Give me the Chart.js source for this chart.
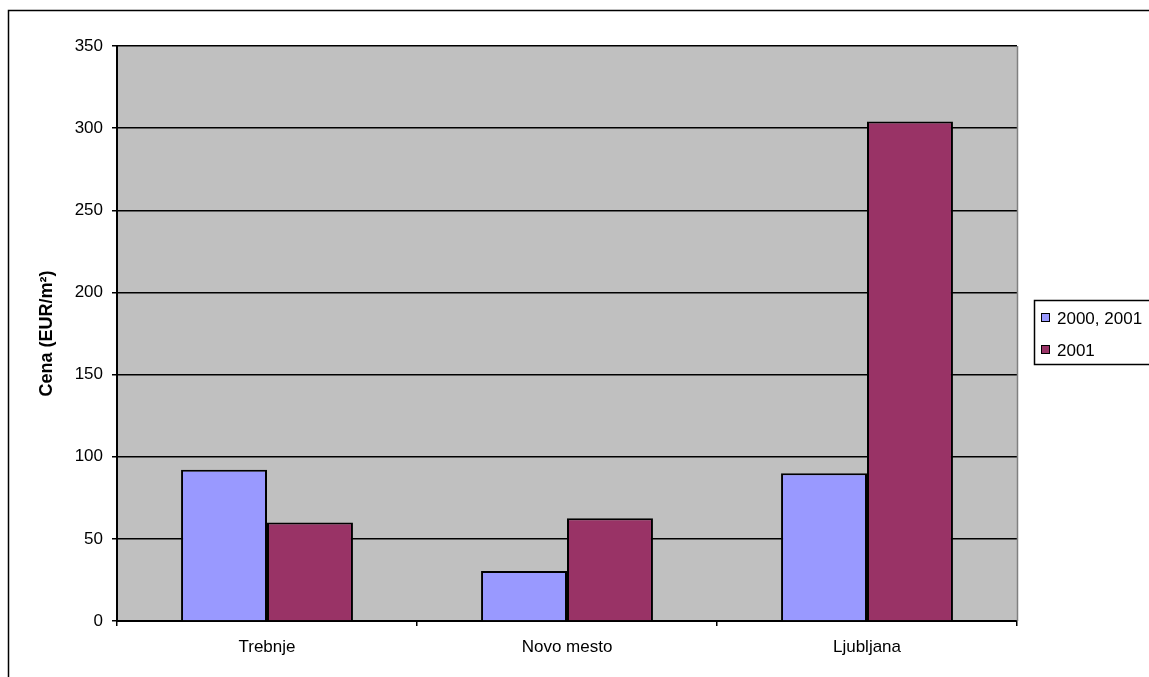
<!DOCTYPE html>
<html>
<head>
<meta charset="utf-8">
<script src="https://cdn.jsdelivr.net/npm/chart.js@4"></script>
<style>
  html, body { margin: 0; padding: 0; background: #fff; }
  #wrap { position: relative; width: 1149px; height: 677px; }
</style>
</head>
<body>
<div id="wrap"><canvas id="chart"></canvas></div>
<script>
'use strict';

var categories = ['Trebnje', 'Novo mesto', 'Ljubljana'];
var series2000 = [92, 30.5, 90];
var series2001 = [60, 62.5, 304];
var seriesNames = ['2000, 2001', '2001'];
var yTicks = [0, 50, 100, 150, 200, 250, 300, 350];

var FONT = '"Liberation Sans", Arial, sans-serif';

// grey plot background, outer frame and legend box
var frame = {
  id: 'frame',
  beforeDraw: function (chart) {
    var ctx = chart.ctx, a = chart.chartArea;
    ctx.save();
    ctx.fillStyle = '#c0c0c0';
    ctx.fillRect(a.left, a.top, a.right - a.left, a.bottom - a.top);
    ctx.strokeStyle = '#000';
    ctx.lineWidth = 1.5;
    ctx.strokeRect(8.5, 10.5, 1200, 700);
    ctx.restore();
  },
  afterDraw: function (chart) {
    var ctx = chart.ctx, a = chart.chartArea;
    ctx.save();
    ctx.strokeStyle = '#808080';
    ctx.lineWidth = 1.5;
    ctx.beginPath();
    ctx.moveTo(Math.round(a.right) + 0.5, a.top);
    ctx.lineTo(Math.round(a.right) + 0.5, a.bottom);
    ctx.stroke();

    // legend
    var x = 1034.5, y = 300.5;
    ctx.fillStyle = '#fff';
    ctx.fillRect(x, y, 120, 64);
    ctx.strokeStyle = '#000';
    ctx.lineWidth = 1.5;
    ctx.strokeRect(x, y, 120, 64);
    ctx.font = '17px ' + FONT;
    ctx.textBaseline = 'middle';
    chart.data.datasets.forEach(function (ds, i) {
      var cy = 318 + i * 32;
      ctx.fillStyle = ds.backgroundColor;
      ctx.fillRect(1041.5, cy - 4.5, 8, 8);
      ctx.strokeStyle = '#000';
      ctx.lineWidth = 1;
      ctx.strokeRect(1041.5, cy - 4.5, 8, 8);
      ctx.fillStyle = '#000';
      ctx.fillText(ds.label, 1057, cy + 1);
    });
    ctx.restore();
  }
};

new Chart(document.getElementById('chart'), {
  type: 'bar',
  data: {
    labels: categories,
    datasets: [{
      label: seriesNames[0],
      data: series2000,
      backgroundColor: '#9999ff',
      borderColor: '#000',
      borderWidth: 2
    }, {
      label: seriesNames[1],
      data: series2001,
      backgroundColor: '#993366',
      borderColor: '#000',
      borderWidth: 2
    }]
  },
  options: {
    responsive: true,
    maintainAspectRatio: false,
    animation: false,
    layout: { padding: { left: 36, top: 46, right: 132, bottom: 0 } },
    datasets: { bar: { categoryPercentage: 0.573, barPercentage: 1.0 } },
    plugins: {
      legend: { display: false },
      tooltip: { enabled: false }
    },
    scales: {
      x: {
        grid: {
          offset: true,
          drawOnChartArea: false,
          color: '#000',
          lineWidth: 1.5,
          tickLength: 5
        },
        border: { color: '#000', width: 2 },
        ticks: {
          color: '#000',
          font: { family: FONT, size: 17 },
          padding: 11,
          maxRotation: 0
        },
        afterFit: function (scale) { scale.height = 56; }
      },
      y: {
        min: 0,
        max: 350,
        afterBuildTicks: function (scale) {
          scale.ticks = yTicks.map(function (v) { return { value: v }; });
        },
        grid: {
          color: '#000',
          lineWidth: 1.5,
          tickLength: 5
        },
        border: { color: '#000', width: 2 },
        ticks: {
          color: '#000',
          font: { family: FONT, size: 17 },
          padding: 9
        },
        title: {
          display: true,
          text: 'Cena (EUR/m²)',
          color: '#000',
          font: { family: FONT, size: 18, weight: 'bold' },
          padding: 0
        },
        afterFit: function (scale) { scale.width = 81; }
      }
    }
  },
  plugins: [frame]
});
</script>
</body>
</html>
